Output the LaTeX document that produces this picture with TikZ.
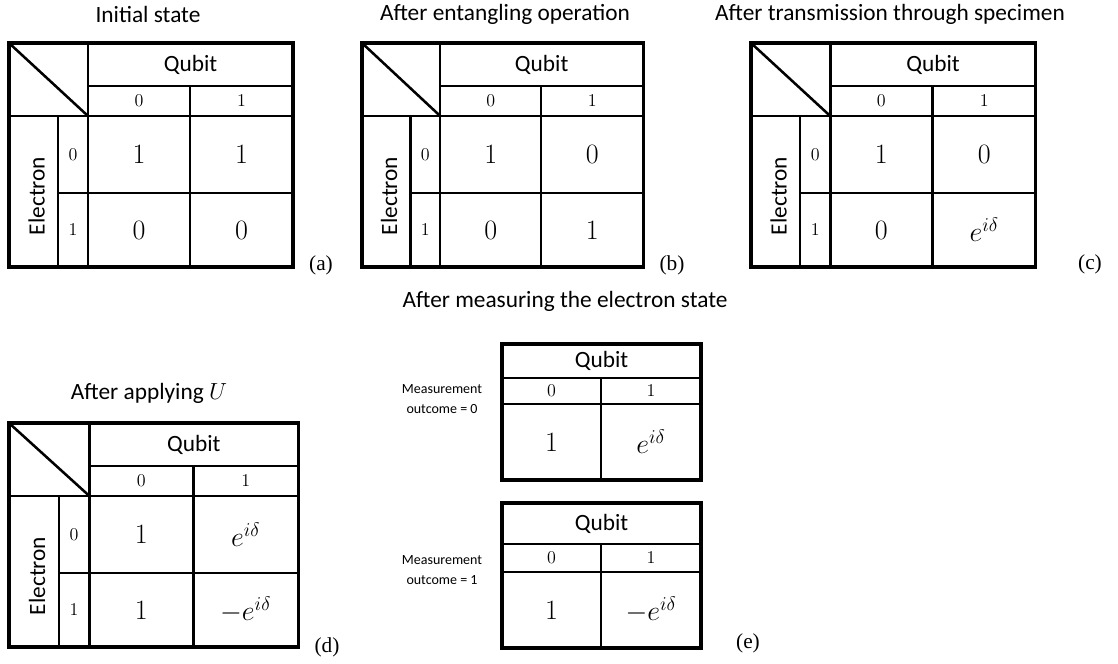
\RequirePackage{fix-cm}
\documentclass[tikz,border=0pt]{standalone}
\usepackage[no-math]{fontspec}
\newfontfamily\carl{Carlito}
\newfontfamily\tnr{Liberation Serif}
\tikzset{
  gridline/.style={line width=1.9pt},
  outerbox/.style={line width=2.4pt, line join=miter},
  ttl/.style={font=\carl\fontsize{17.5}{21}\selectfont, inner sep=0},
  qb/.style={font=\carl\fontsize{17.5}{21}\selectfont, inner sep=0},
  hd/.style={font=\fontsize{13.5}{16}\selectfont, inner sep=0},
  val/.style={font=\fontsize{21}{25}\selectfont, inner sep=0},
  lbl/.style={font=\tnr\fontsize{16}{19}\selectfont, inner sep=0},
  meas/.style={font=\carl\fontsize{10.5}{15}\selectfont, align=center, inner sep=0},
}
% full table: #1 name, #2 shift, #3 xscale, #4-#7 values (00,01,10,11)
\newcommand\qtab[7]{%
\begin{scope}[shift={#2}, xscale=#3]
  \draw[gridline] (0,0) -- (79,73);
  \draw[gridline] (79,0) -- (79,224);
  \draw[gridline] (79,43) -- (284,43);
  \draw[gridline] (0,73) -- (284,73);
  \draw[gridline] (181,43) -- (181,224);
  \draw[gridline] (49,73) -- (49,224);
  \draw[gridline] (49,150) -- (284,150);
  \draw[outerbox] (0,0) rectangle (284,224);
  \node[qb] (#1-qubit) at (181.5,21.5) {Qubit};
  \node[hd] (#1-q0) at (130,58) {$0$};
  \node[hd] (#1-q1) at (232.5,58) {$1$};
  \node[qb, rotate=90] (#1-el) at (27.5,153) {Electron};
  \node[hd] (#1-e0) at (64,111.5) {$0$};
  \node[hd] (#1-e1) at (64,187) {$1$};
  \node[val] (#1-v00) at (130,111.5) {#4};
  \node[val] (#1-v01) at (232.5,111.5) {#5};
  \node[val] (#1-v10) at (130,187) {#6};
  \node[val] (#1-v11) at (232.5,187) {#7};
\end{scope}}
% reduced table: #1 name, #2 top, #3 qubit bottom, #4 header bottom, #5 bottom, #6 #7 values
\newcommand\etab[7]{%
  \draw[gridline] (502,#3) -- (701,#3);
  \draw[gridline] (502,#4) -- (701,#4);
  \draw[gridline] (601,#3) -- (601,#5);
  \draw[outerbox] (502,#2) rectangle (701,#5);
  \node[qb] (#1-qubit) at (601.5,{(#2+#3)/2}) {Qubit};
  \node[hd] (#1-q0) at (551.5,{(#3+#4)/2}) {$0$};
  \node[hd] (#1-q1) at (651,{(#3+#4)/2}) {$1$};
  \node[val] (#1-v0) at (551.5,{(#4+#5)/2}) {#6};
  \node[val] (#1-v1) at (651,{(#4+#5)/2}) {#7};
}
\begin{document}
\begin{tikzpicture}[x=0.75pt, y=-0.75pt]
\useasboundingbox (0,0) rectangle (1118,664);

% (a)
\node[ttl] (ta) at (148,14) {Initial state};
\qtab{a}{(9,43)}{1}{$1$}{$1$}{$0$}{$0$}
\node[lbl] (la) at (321,265) {(a)};

% (b)
\node[ttl] (tb) at (505,14) {After entangling operation};
\qtab{b}{(362,43)}{0.99}{$1$}{$0$}{$0$}{$1$}
\node[lbl] (lb) at (672,265) {(b)};

% (c)
\node[ttl] (tc) at (890,14) {After transmission through specimen};
\qtab{c}{(751,43)}{1.003}{$1$}{$0$}{$0$}{$e^{i\delta}$}
\node[lbl] (lc) at (1090,264) {(c)};

% (d)
\node[ttl] (td) at (149,393) {After applying $U$};
\qtab{d}{(9,423)}{1.018}{$1$}{$e^{i\delta}$}{$1$}{$-e^{i\delta}$}
\node[lbl] (ld) at (327,647) {(d)};

% (e)
\node[ttl] (te) at (565,301) {After measuring the electron state};
\etab{e0}{344}{378}{404}{480}{$1$}{$e^{i\delta}$}
\etab{e1}{503}{544}{572}{648}{$1$}{$-e^{i\delta}$}
\node[meas] (m0) at (442,399) {Measurement\\outcome = 0};
\node[meas] (m1) at (442,570) {Measurement\\outcome = 1};
\node[lbl] (le) at (748,643) {(e)};
\end{tikzpicture}
\end{document}
